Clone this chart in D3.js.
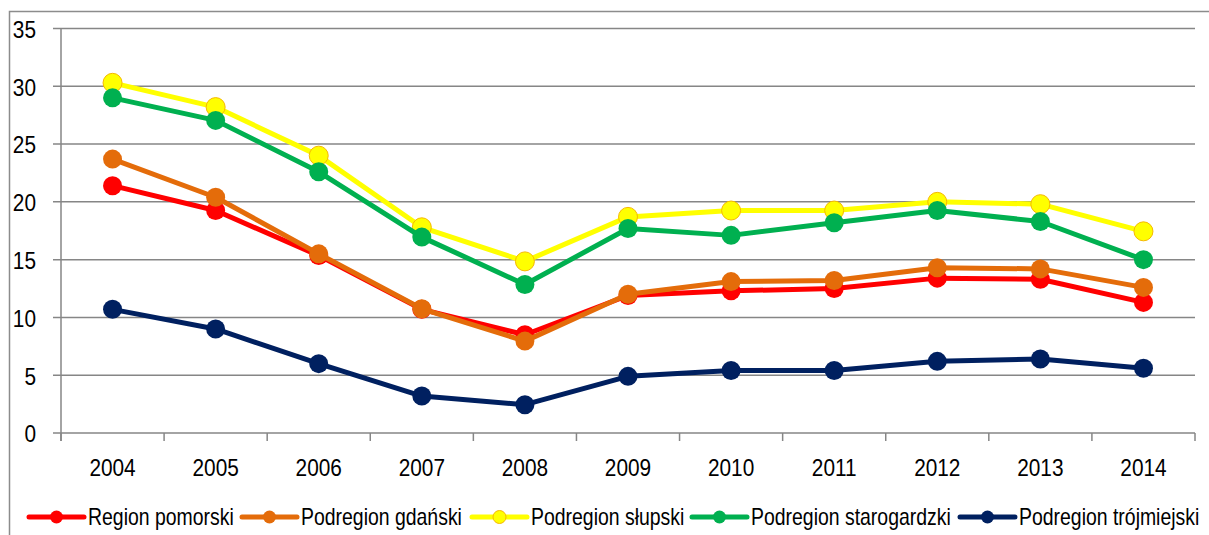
<!DOCTYPE html>
<html><head><meta charset="utf-8">
<script src="https://cdn.jsdelivr.net/npm/d3@7/dist/d3.min.js"></script>
<style>body{margin:0;background:#fff}svg{display:block;font-family:"Liberation Sans",Arial,sans-serif}</style>
</head><body>
<svg id="c" width="1209" height="535"></svg>
<script>
const years = ["2004","2005","2006","2007","2008","2009","2010","2011","2012","2013","2014"];
const yTicks = [0,5,10,15,20,25,30,35];
const seriesNames = ["Region pomorski","Podregion gdański","Podregion słupski","Podregion starogardzki","Podregion trójmiejski"];
const seriesColors = ["#FF0000","#E46C0A","#FFFF00","#00B050","#002060"];
const regionPomorski = [21.4,19.25,15.35,10.7,8.5,11.9,12.3,12.5,13.4,13.3,11.3];
const podregionGdanski = [23.7,20.4,15.5,10.75,7.95,12.0,13.1,13.2,14.3,14.2,12.6];
const podregionSlupski = [30.3,28.2,24.0,17.8,14.85,18.7,19.25,19.25,20.0,19.8,17.45];
const podregionStarogardzki = [29.0,27.05,22.6,16.95,12.85,17.7,17.1,18.2,19.25,18.3,15.0];
const podregionTrojmiejski = [10.7,9.0,6.0,3.2,2.45,4.9,5.4,5.4,6.2,6.4,5.6];
const seriesValues = [regionPomorski,podregionGdanski,podregionSlupski,podregionStarogardzki,podregionTrojmiejski];

(function(){
const svg = d3.select("#c");
const pL = 61, pR = 1195, pT = 28.5, pB = 433;
const x = d3.scaleBand().domain(years).range([pL,pR]);
const y = d3.scaleLinear().domain([0,35]).range([pB,pT]);
const grid = "#868686";
const SX = 0.85;

svg.append("path").attr("d","M9.5,535V11.5H1209").attr("fill","none").attr("stroke","#8c8c8c").attr("stroke-width",1.5);

svg.append("g").selectAll("line").data(yTicks).join("line")
  .attr("x1",53).attr("x2",pR).attr("y1",d=>y(d)).attr("y2",d=>y(d))
  .attr("stroke",grid).attr("stroke-width",1.5);
svg.append("line").attr("x1",pL).attr("x2",pL).attr("y1",pT).attr("y2",pB+8).attr("stroke",grid).attr("stroke-width",1.5);
const edges = years.map(d=>x(d)).concat([pR]);
svg.append("g").selectAll("line").data(edges).join("line")
  .attr("x1",d=>d).attr("x2",d=>d).attr("y1",pB).attr("y2",pB+8)
  .attr("stroke",grid).attr("stroke-width",1.5);
svg.append("g").selectAll("text").data(yTicks).join("text")
  .attr("transform",d=>`translate(36,${y(d)+9.3}) scale(${SX},1)`).attr("text-anchor","end")
  .attr("font-size",24.5).attr("fill","#000").text(d=>d);
svg.append("g").selectAll("text").data(years).join("text")
  .attr("transform",d=>`translate(${x(d)+x.bandwidth()/2},476) scale(${SX},1)`).attr("text-anchor","middle")
  .attr("font-size",24.5).attr("fill","#000").text(d=>d);

const line = d3.line().x((d,i)=>x(years[i])+x.bandwidth()/2).y(d=>y(d));
seriesValues.forEach((vals,si)=>{
  const g = svg.append("g");
  g.append("path").attr("d",line(vals)).attr("fill","none").attr("stroke",seriesColors[si]).attr("stroke-width",5).attr("stroke-linejoin","round");
  g.selectAll("circle").data(vals).join("circle")
    .attr("cx",(d,i)=>x(years[i])+x.bandwidth()/2).attr("cy",d=>y(d)).attr("r",9.5)
    .attr("fill",seriesColors[si])
    .attr("stroke",si===2?"#F5B800":seriesColors[si]).attr("stroke-width",si===2?1:0);
});

const legendX = [29,242,472,692,960];
const ly = 517;
seriesNames.forEach((name,i)=>{
  const g = svg.append("g").attr("transform",`translate(${legendX[i]},${ly})`);
  g.append("line").attr("x1",0).attr("x2",55).attr("stroke",seriesColors[i]).attr("stroke-width",5).attr("stroke-linecap","round");
  g.append("circle").attr("cx",27.5).attr("r",6.5).attr("fill",seriesColors[i])
    .attr("stroke",i===2?"#F5B800":"none").attr("stroke-width",1);
  g.append("text").attr("transform",`translate(59,8.3) scale(0.845,1)`).attr("font-size",23).attr("fill","#000").text(name);
});
})();
</script>
</body></html>
